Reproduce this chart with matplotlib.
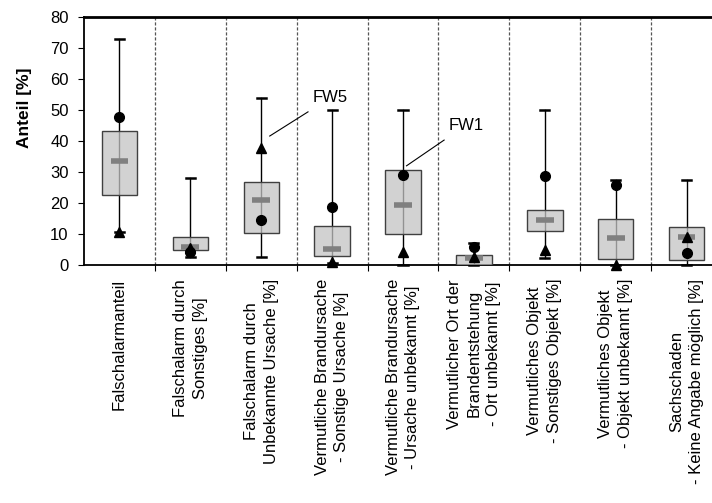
import matplotlib
matplotlib.use("Agg")
import matplotlib.pyplot as plt
from matplotlib.patches import Rectangle

plt.rcParams['font.family'] = ['Liberation Sans', 'DejaVu Sans']

categories = [
    "Falschalarmanteil",
    "Falschalarm durch\nSonstiges [%]",
    "Falschalarm durch\nUnbekannte Ursache [%]",
    "Vermutliche Brandursache\n- Sonstige Ursache [%]",
    "Vermutliche Brandursache\n- Ursache unbekannt [%]",
    "Vermutlicher Ort der\nBrandentstehung\n- Ort unbekannt [%]",
    "Vermutliches Objekt\n- Sonstiges Objekt [%]",
    "Vermutliches Objekt\n- Objekt unbekannt [%]",
    "Sachschaden\n- Keine Angabe möglich [%]",
]
whisker_low = [10.5, 2.7, 2.7, 0.5, 0.0, 0.0, 2.4, 0.0, 0.0]
q1 = [22.5, 4.8, 10.2, 3.0, 9.9, 0.0, 11.0, 2.0, 1.5]
median = [33.5, 5.9, 20.9, 5.3, 19.4, 2.4, 14.6, 8.8, 9.1]
q3 = [43.3, 9.1, 26.8, 12.6, 30.6, 3.1, 17.7, 14.9, 12.3]
whisker_high = [72.8, 28.1, 53.8, 50.0, 50.0, 7.2, 50.0, 27.4, 27.4]
fw1 = [47.8, 4.3, 14.5, 18.7, 29.0, 5.9, 28.8, 25.8, 3.8]
fw5 = [10.5, 5.5, 37.8, 1.1, 4.1, 2.5, 4.8, 0.0, 8.9]
yticks = [0, 10, 20, 30, 40, 50, 60, 70, 80]

fig = plt.figure(figsize=(7.12, 5.03), dpi=100)
ax = fig.add_axes([84/712, 1-265/503, 638/712, 248/503])

n = len(categories)
bw = 0.5
cw = 0.13
for i in range(n):
    ax.plot([i, i], [whisker_low[i], whisker_high[i]], color='black', lw=1.0, zorder=2)
    ax.plot([i-cw/2, i+cw/2], [whisker_low[i]]*2, color='black', lw=1.8, zorder=2, clip_on=False)
    ax.plot([i-cw/2, i+cw/2], [whisker_high[i]]*2, color='black', lw=1.8, zorder=2)
    ax.add_patch(Rectangle((i-bw/2, q1[i]), bw, q3[i]-q1[i], facecolor='#c4c4c4', alpha=0.75,
                           edgecolor='none', zorder=3))
    ax.add_patch(Rectangle((i-bw/2, q1[i]), bw, q3[i]-q1[i], facecolor='none',
                           edgecolor='#404040', lw=1.0, zorder=4))
    ax.plot([i-0.125, i+0.125], [median[i]]*2, color='#808080', lw=4, solid_capstyle='butt', zorder=5)

xs = list(range(n))
ax.plot(xs, fw1, 'o', color='black', ms=7, zorder=6, clip_on=False)
ax.plot(xs, fw5, '^', color='black', ms=7, zorder=6, clip_on=False)

for b in range(1, n):
    ax.axvline(b-0.5, color='#555555', lw=0.9, ls=(0, (2.5, 1.5)), zorder=1)

ax.plot([2.12, 2.66], [41.6, 49.4], color='black', lw=0.8, zorder=7)
ax.text(2.72, 54, "FW5", fontsize=12, va='center', ha='left')
ax.plot([4.05, 4.58], [32, 40.3], color='black', lw=0.8, zorder=7)
ax.text(4.65, 45, "FW1", fontsize=12, va='center', ha='left')

ax.set_xlim(-0.5, n-0.5)
ax.set_ylim(0, 80)
ax.set_yticks(yticks)
ax.tick_params(axis='y', direction='out', length=4, labelsize=12, width=0.8, pad=7)
ax.set_xticks(xs)
ax.set_xticklabels(categories, rotation=90, ha='center', va='top', multialignment='center',
                   fontsize=12, linespacing=1.38)
ax.tick_params(axis='x', which='major', length=0, pad=10)
ax.set_xticks([b-0.5 for b in range(1, n)], minor=True)
ax.tick_params(axis='x', which='minor', direction='out', length=4, width=0.8)

for s in ['left', 'bottom']:
    ax.spines[s].set_linewidth(1.3)
ax.spines['top'].set_linewidth(2.0)
ax.spines['right'].set_visible(False)

ax.set_ylabel("Anteil [%]", fontsize=12.5, fontweight='bold')
ax.yaxis.set_label_coords(-0.0815, 0.633)

fig.savefig("out.png", dpi=100)
